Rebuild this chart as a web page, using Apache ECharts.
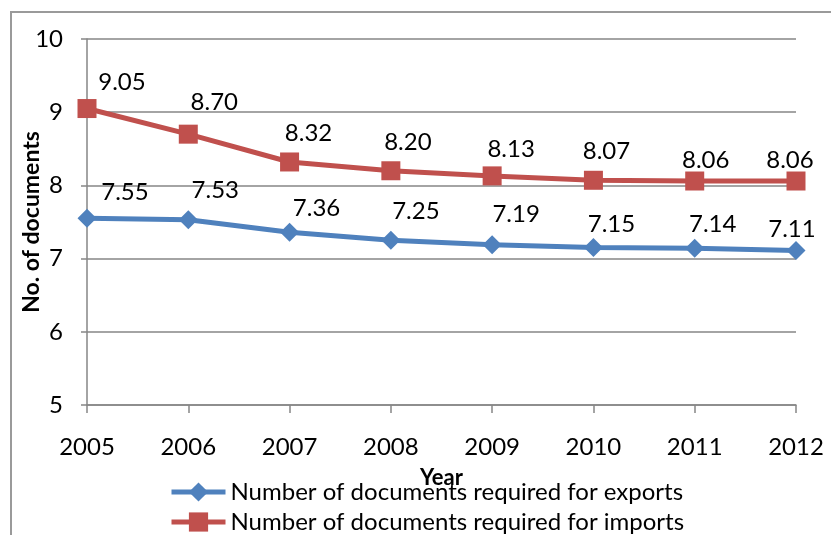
<!DOCTYPE html>
<html>
<head>
<meta charset="utf-8">
<script src="https://cdn.jsdelivr.net/npm/echarts@6/dist/echarts.min.js"></script>
<style>
  html, body { margin: 0; padding: 0; background: #fff; }
  #chart { width: 831px; height: 535px; }
</style>
</head>
<body>
<div id="chart"></div>
<script>
// Years on the category axis
const years = ['2005', '2006', '2007', '2008', '2009', '2010', '2011', '2012'];
// Documents required per year
const exportsDocs = [7.55, 7.53, 7.36, 7.25, 7.19, 7.15, 7.14, 7.11];
const importsDocs = [9.05, 8.70, 8.32, 8.20, 8.13, 8.07, 8.06, 8.06];
const seriesNames = [
  'Number of documents required for exports',
  'Number of documents required for imports'
];

// Hand-placed value label shifts (px, relative to each marker centre)
const exportLabelShift = [[38, -26], [27, -30], [27, -24], [25, -29], [24, -30], [18, -23], [18, -24], [-4, -21]];
const importLabelShift = [[35, -26], [26, -32], [19, -29], [17, -28], [19, -27], [13, -29], [11, -21], [-6, -21]];

const FONT = 'Lato';
const BLUE = '#4F81BD';
const RED = '#C0504D';
const GREY = '#868686';

function withLabels(values, shifts) {
  return values.map((v, i) => ({
    value: v,
    label: { offset: shifts[i] }
  }));
}

function legendRow(name, top) {
  return {
    orient: 'horizontal',
    left: 164,
    top: top,
    itemWidth: 54,
    itemHeight: 24,
    lineStyle: { width: 5 },
    textStyle: { fontFamily: FONT, fontSize: 24, color: '#000' },
    data: [name]
  };
}

const chart = echarts.init(document.getElementById('chart'), null, { renderer: 'canvas' });

chart.setOption({
  animation: false,
  textStyle: { fontFamily: FONT },
  graphic: [{
    type: 'rect',
    shape: { x: 11, y: 12, width: 840, height: 540 },
    style: { fill: 'none', stroke: '#9a9a9a', lineWidth: 2 },
    silent: true,
    z: -1
  }],
  grid: { left: 87, right: 35, top: 39, bottom: 130, containLabel: false, outerBoundsMode: 'none' },
  legend: [legendRow(seriesNames[0], 475), legendRow(seriesNames[1], 505)],
  xAxis: {
    type: 'category',
    data: years,
    boundaryGap: false,
    name: 'Year',
    nameLocation: 'middle',
    nameGap: 62,
    nameMoveOverlap: false,
    nameTextStyle: { fontFamily: FONT, fontSize: 22, fontWeight: 'bold', color: '#000' },
    axisLine: { lineStyle: { color: GREY, width: 1.5 } },
    axisTick: { show: true, length: 8, lineStyle: { color: GREY, width: 1.5 } },
    axisLabel: { fontFamily: FONT, fontSize: 24, color: '#000', margin: 30 }
  },
  yAxis: {
    type: 'value',
    min: 5,
    max: 10,
    interval: 1,
    name: 'No. of documents',
    nameLocation: 'middle',
    nameGap: 44,
    nameMoveOverlap: false,
    nameTextStyle: { fontFamily: FONT, fontSize: 23, fontWeight: 'bold', color: '#000' },
    axisLine: { show: true, lineStyle: { color: GREY, width: 1.5 } },
    axisTick: { show: true, length: 6, lineStyle: { color: GREY, width: 1.5 } },
    splitLine: { show: true, lineStyle: { color: GREY, width: 1.5 } },
    axisLabel: { fontFamily: FONT, fontSize: 24, color: '#000', margin: 24 }
  },
  series: [
    {
      name: seriesNames[0],
      type: 'line',
      data: withLabels(exportsDocs, exportLabelShift),
      symbol: 'diamond',
      symbolSize: 19,
      lineStyle: { color: BLUE, width: 5 },
      itemStyle: { color: BLUE },
      label: {
        show: true,
        position: 'inside',
        fontFamily: FONT,
        fontSize: 24,
        color: '#000',
        formatter: p => p.value.toFixed(2)
      },
      z: 3
    },
    {
      name: seriesNames[1],
      type: 'line',
      data: withLabels(importsDocs, importLabelShift),
      symbol: 'rect',
      symbolSize: 19,
      lineStyle: { color: RED, width: 5 },
      itemStyle: { color: RED },
      label: {
        show: true,
        position: 'inside',
        fontFamily: FONT,
        fontSize: 24,
        color: '#000',
        formatter: p => p.value.toFixed(2)
      },
      z: 3
    }
  ]
});
</script>
</body>
</html>
